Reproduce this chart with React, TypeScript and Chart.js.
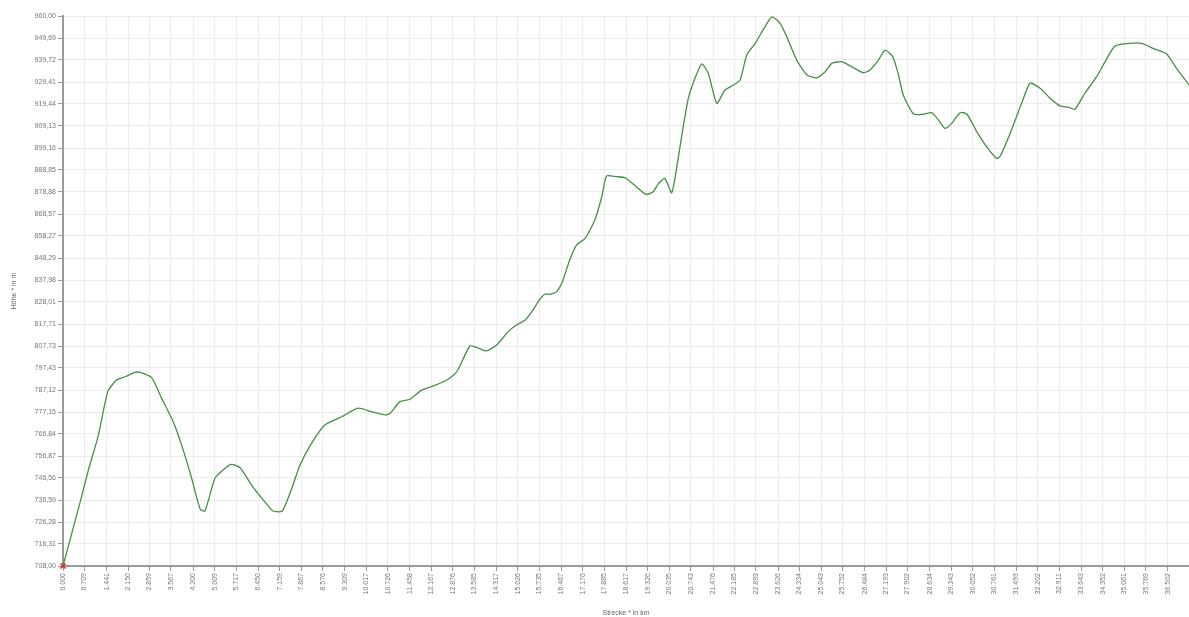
import React, { useEffect, useRef } from "react";
import { Chart, registerables } from "chart.js";

Chart.register(...registerables);

// Elevation profile (distance in km, height in m)
const distanceKm = [
  0, 0.57, 0.84, 1.17, 1.48, 1.77, 2.05, 2.38, 2.55, 2.93, 3.26, 3.64, 3.92, 4.25, 4.53, 4.69,
  5.02, 5.29, 5.55, 5.85, 6.23, 6.62, 6.94, 7.24, 7.56, 7.83, 8.21, 8.65, 9.21, 9.75, 10.19, 10.64,
  10.81, 11.13, 11.46, 11.85, 12.24, 12.68, 13.01, 13.44, 13.66, 13.99, 14.33, 14.71, 14.98, 15.27,
  15.49, 15.74, 15.92, 16.09, 16.31, 16.5, 16.74, 16.97, 17.25, 17.57, 17.8, 17.96, 18.29, 18.57,
  18.84, 19.26, 19.5, 19.66, 19.88, 20.11, 20.28, 20.49, 20.66, 20.88, 21.1, 21.32, 21.6, 21.87,
  22.15, 22.37, 22.59, 22.87, 23.13, 23.42, 23.69, 23.91, 24.24, 24.58, 24.9, 25.18, 25.4, 25.72,
  26.05, 26.44, 26.66, 26.94, 27.16, 27.41, 27.59, 27.76, 28.1, 28.42, 28.7, 28.92, 29.14, 29.36,
  29.64, 29.86, 30.19, 30.51, 30.84, 30.95, 31.29, 31.67, 31.95, 32.28, 32.61, 32.94, 33.21, 33.43,
  33.76, 34.15, 34.49, 34.76, 35.25, 35.63, 36.01, 36.46, 36.79, 37.2,
];

const heightM = [
  708, 737.5, 752, 768, 787.9, 793.2, 794.7, 796.7, 796.7, 794.3, 784.8, 774.1, 763.4, 748.2, 734.1, 733.2,
  748.2, 752, 754.6, 753, 745.1, 738.2, 733.2, 733.2, 743.6, 754.3, 764.2, 772.6, 776.4, 780.3, 778.7, 777.2,
  778, 783.3, 784.4, 788.6, 790.5, 793.2, 797, 808.8, 808.2, 806.6, 809.3, 815.4, 818.4, 820.7,
  824.5, 829.9, 832.5, 832.5, 833.7, 838.3, 848.2, 855.1, 858.1, 866.5, 877.2, 886.7, 886.4, 885.9,
  883, 878.3, 879.5, 883, 885.6, 879, 891, 909.3, 922.3, 931.5, 938, 933.7, 920, 926.1,
  928.4, 930.7, 942.1, 947.5, 953.6, 959.6, 956.6, 950.5, 939.8, 933, 931.7, 934.5, 938.3, 939.1,
  936.8, 934, 935.3, 939.8, 944.4, 941.4, 933.7, 923.8, 915.1, 915, 915.7, 912.4, 908.5, 910.8,
  915.7, 915.1, 907, 900.1, 894.8, 895.5, 906.2, 920, 929.2, 926.9, 922.3, 918.8, 918.2, 917.3,
  924.6, 932.2, 940.6, 946.3, 947.5, 947.5, 945.2, 942.6, 936, 928.4,
];

const startKm = [0];
const startHeight = [708];

const xTickValues = [
  0.0, 0.709, 1.441, 2.15, 2.859, 3.567, 4.3, 5.009, 5.717, 6.45, 7.159, 7.867, 8.576, 9.309,
  10.017, 10.726, 11.458, 12.167, 12.876, 13.585, 14.317, 15.026, 15.735, 16.467, 17.176, 17.885,
  18.617, 19.326, 20.035, 20.743, 21.476, 22.185, 22.893, 23.626, 24.334, 25.043, 25.752, 26.484,
  27.193, 27.902, 28.634, 29.343, 30.052, 30.761, 31.493, 32.202, 32.911, 33.643, 34.352, 35.061,
  35.769, 36.502,
];
const xTickLabels = xTickValues.map((v) => v.toFixed(3));

const yTickLabels = [
  "708,00", "716,31", "726,28", "736,59", "746,56", "756,87", "766,84", "777,15", "787,12",
  "797,43", "807,73", "817,71", "828,01", "837,98", "848,29", "858,27", "868,57", "878,88",
  "888,85", "899,16", "909,13", "919,44", "929,41", "939,72", "949,69", "960,00",
];

const Y_MIN = 708;
const Y_MAX = 960;
const X_MAX = 37.2;

export default function App() {
  const ref = useRef<HTMLCanvasElement>(null);

  useEffect(() => {
    document.body.style.margin = "0";
    const canvas = ref.current;
    if (!canvas) return;
    Chart.defaults.font.family = "'Liberation Sans', Arial, sans-serif";
    const chart = new Chart(canvas, {
      type: "line",
      data: {
        datasets: [
          {
            data: distanceKm.map((x, i) => ({ x, y: heightM[i] })),
            borderColor: "#458f45",
            borderWidth: 1.3,
            pointRadius: 0,
            tension: 0.2,
            fill: false,
          },
          {
            data: startKm.map((x, i) => ({ x, y: startHeight[i] })),
            showLine: false,
            pointStyle: "crossRot",
            pointRadius: 3.5,
            borderColor: "#e02020",
            borderWidth: 1.5,
            clip: false,
          } as any,
        ],
      },
      options: {
        animation: false,
        responsive: true,
        maintainAspectRatio: false,
        layout: { autoPadding: false, padding: { top: 16, right: 0, left: 0, bottom: 0 } },
        plugins: { legend: { display: false }, tooltip: { enabled: false } },
        scales: {
          x: {
            type: "linear",
            min: 0,
            max: X_MAX,
            afterBuildTicks: (s: any) => {
              s.ticks = xTickValues.map((v) => ({ value: v }));
            },
            afterFit: (s: any) => {
              s.height = 51;
              s.paddingRight = 0;
              s.paddingLeft = 0;
            },
            ticks: {
              autoSkip: false,
              maxRotation: 90,
              minRotation: 90,
              padding: 2,
              color: "#777",
              font: { size: 7 },
              callback: (_v: any, i: number) => xTickLabels[i],
            },
            grid: { color: "#ececec", tickColor: "#999", tickLength: 5 },
            border: { color: "#9a9a9a", width: 2 },
            title: {
              display: true,
              text: "Strecke * in km",
              color: "#666",
              font: { size: 7 },
              padding: { top: 0, bottom: 0 },
            },
          },
          y: {
            type: "linear",
            min: Y_MIN,
            max: Y_MAX,
            afterBuildTicks: (s: any) => {
              s.ticks = yTickLabels.map((_, i) => ({
                value: Y_MIN + (i * (Y_MAX - Y_MIN)) / (yTickLabels.length - 1),
              }));
            },
            afterFit: (s: any) => {
              s.width = 63;
            },
            ticks: {
              autoSkip: false,
              padding: 2,
              color: "#777",
              font: { size: 7 },
              callback: (_v: any, i: number) => yTickLabels[i],
            },
            grid: { color: "#ececec", tickColor: "#999", tickLength: 5 },
            border: { color: "#9a9a9a", width: 2 },
            title: {
              display: true,
              text: "Höhe * in m",
              color: "#666",
              font: { size: 7 },
              padding: { top: 10, bottom: 0 },
            },
          },
        },
      },
    });
    return () => chart.destroy();
  }, []);

  return (
    <div style={{ width: 1189, height: 617, position: "relative", overflow: "hidden" }}>
      <canvas ref={ref} />
    </div>
  );
}
